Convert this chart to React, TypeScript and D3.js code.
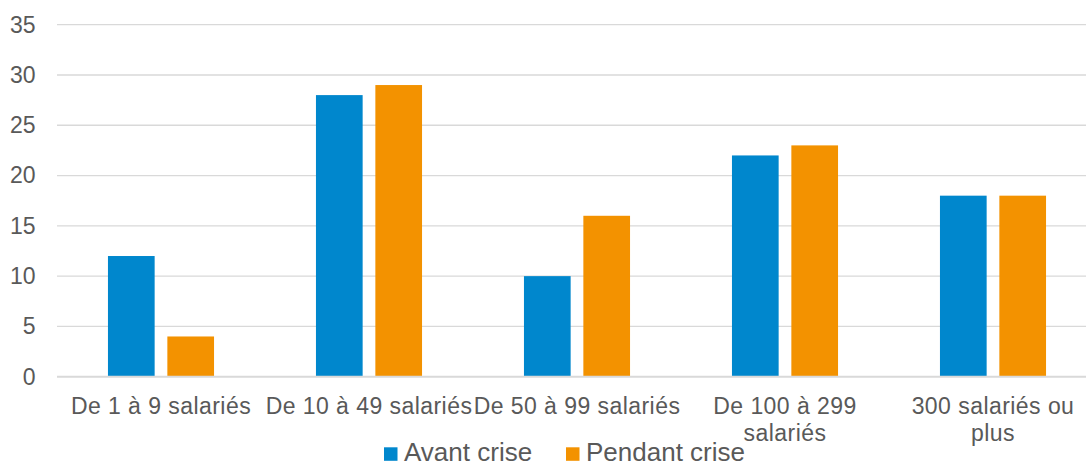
import React from "react";
import * as d3 from "d3";

const categories = [
  "De 1 à 9 salariés",
  "De 10 à 49 salariés",
  "De 50 à 99 salariés",
  "De 100 à 299 salariés",
  "300 salariés ou plus",
];
const categoryLines = [
  ["De 1 à 9 salariés"],
  ["De 10 à 49 salariés"],
  ["De 50 à 99 salariés"],
  ["De 100 à 299", "salariés"],
  ["300 salariés ou", "plus"],
];
const seriesNames = ["Avant crise", "Pendant crise"];
const avantCrise = [12, 28, 10, 22, 18];
const pendantCrise = [4, 29, 16, 23, 18];
const yTicks = [0, 5, 10, 15, 20, 25, 30, 35];
const colors = ["#0087CD", "#F39200"];

const W = 1086;
const H = 463;

export default function App() {
  const x = d3.scaleBand<string>().domain(categories).range([57, 1097]).padding(0);
  const x1 = d3
    .scaleBand<string>()
    .domain(seriesNames)
    .range([0, x.step()])
    .paddingInner(0.214)
    .paddingOuter(0.858);
  const y = d3.scaleLinear().domain([0, 35]).range([376.7, 24.7]);
  const values = [avantCrise, pendantCrise];
  const font = "'Liberation Sans', Arial, sans-serif";
  const textColor = "#595959";

  return (
    <svg
      width={W}
      height={H}
      style={{ position: "absolute", left: 0, top: 0, display: "block", background: "#fff" }}
    >
      <rect x={0} y={0} width={W} height={H} fill="#ffffff" />
      {yTicks.map((t) =>
        t === 0 ? null : (
          <line key={t} x1={57} x2={W} y1={y(t)} y2={y(t)} stroke="#D9D9D9" strokeWidth={1.3} />
        )
      )}
      {yTicks.map((t) => (
        <text
          key={"yl" + t}
          x={35.5}
          y={y(t)}
          dy="0.34em"
          textAnchor="end"
          fontFamily={font}
          fontSize={23}
          fill={textColor}
        >
          {t}
        </text>
      ))}
      {categories.map((c, i) => (
        <g key={c} transform={`translate(${x(c)},0)`}>
          {seriesNames.map((s, j) => (
            <rect
              key={s}
              x={x1(s)}
              y={y(values[j][i])}
              width={x1.bandwidth()}
              height={y(0) - y(values[j][i])}
              fill={colors[j]}
            />
          ))}
        </g>
      ))}
      <line x1={57} x2={W} y1={y(0)} y2={y(0)} stroke="#D9D9D9" strokeWidth={2} />
      {categories.map((c, i) => (
        <text
          key={"xl" + c}
          x={(x(c) as number) + x.bandwidth() / 2}
          y={413.5}
          textAnchor="middle"
          fontFamily={font}
          fontSize={23}
          letterSpacing={0.45}
          fill={textColor}
        >
          {categoryLines[i].map((line, k) => (
            <tspan key={k} x={(x(c) as number) + x.bandwidth() / 2} dy={k === 0 ? 0 : 27.5}>
              {line}
            </tspan>
          ))}
        </text>
      ))}
      {seriesNames.map((s, j) => {
        const lx = [384, 566][j];
        return (
          <g key={"lg" + s}>
            <rect x={lx} y={447.3} width={13.5} height={13.5} fill={colors[j]} />
            <text x={lx + 20} y={460.7} fontFamily={font} fontSize={26} fill={textColor}>
              {s}
            </text>
          </g>
        );
      })}
    </svg>
  );
}
